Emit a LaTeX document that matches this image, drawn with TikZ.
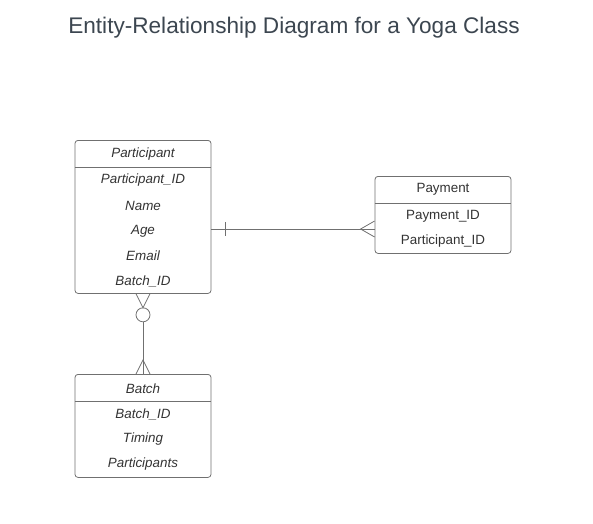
\documentclass[tikz,border=0pt]{standalone}
\usepackage{fontspec}
\setmainfont{Liberation Sans}
\usetikzlibrary{calc}
\definecolor{linegray}{HTML}{707070}
\definecolor{textgray}{HTML}{333333}
\definecolor{titlegray}{HTML}{3C4650}

\begin{document}
\begin{tikzpicture}[x=1pt,y=-1pt,
  entity/.style={draw=linegray, line width=0.8pt, rounded corners=3pt, minimum width=136pt, inner sep=0pt, anchor=north},
  attr/.style={text=textgray, font=\fontsize{13.4}{15}\selectfont, inner sep=1pt},
  conn/.style={draw=linegray, line width=0.8pt}]
\useasboundingbox (0,0) rectangle (593,523);

\node[text=titlegray, font=\fontsize{22.6}{26}\selectfont] (title) at (294,28) {Entity-Relationship Diagram for a Yoga Class};

% Participant
\node[entity, minimum height=153pt] (participant) at (143,140) {};
\draw[conn] ($(participant.north west)+(0,27)$) -- ($(participant.north east)+(0,27)$);
\node[attr, font=\fontsize{13.4}{15}\selectfont\itshape] (participanthead) at (143,154.5) {Participant};
\foreach \name/\lbl [count=\i] in {pid/Participant\_ID, name/Name, age/Age, email/Email, bid/Batch\_ID}
  \node[attr, font=\fontsize{13.4}{15}\selectfont\itshape] (\name) at (143,{180.5+25.2*(\i-1)}) {\lbl};

% Payment
\node[entity, minimum height=77pt] (payment) at (443,176) {};
\draw[conn] ($(payment.north west)+(0,27)$) -- ($(payment.north east)+(0,27)$);
\node[attr] (paymenthead) at (443,189.5) {Payment};
\node[attr] (payid) at (443,216.5) {Payment\_ID};
\node[attr] (paypid) at (443,241.5) {Participant\_ID};

% Batch
\node[entity, minimum height=103pt] (batch) at (143,374) {};
\draw[conn] ($(batch.north west)+(0,27)$) -- ($(batch.north east)+(0,27)$);
\node[attr, font=\fontsize{13.4}{15}\selectfont\itshape] (batchhead) at (143,388.5) {Batch};
\foreach \name/\lbl [count=\i] in {batchid/Batch\_ID, timing/Timing, members/Participants}
  \node[attr, font=\fontsize{13.4}{15}\selectfont\itshape] (\name) at (143,{414.5+25*(\i-1)}) {\lbl};

% Participant -- Payment
\coordinate (pa) at (participant.east |- 0,229);
\coordinate (pb) at (payment.west |- 0,229);
\draw[conn] (pa) -- (pb);
\draw[conn] ($(pa)+(14,-7)$) -- ($(pa)+(14,7)$);
\draw[conn] ($(pb)+(0,-8)$) -- ($(pb)+(-14,0)$) -- ($(pb)+(0,8)$);

% Participant -- Batch
\coordinate (ba) at (participant.south);
\coordinate (bb) at (batch.north);
\draw[conn] ($(ba)+(-7,0)$) -- ($(ba)+(0,14)$) -- ($(ba)+(7,0)$);
\draw[conn] ($(ba)+(0,21)$) circle (7);
\draw[conn] ($(ba)+(0,28)$) -- (bb);
\draw[conn] ($(bb)+(-7,0)$) -- ($(bb)+(0,-14)$) -- ($(bb)+(7,0)$);
\end{tikzpicture}
\end{document}
